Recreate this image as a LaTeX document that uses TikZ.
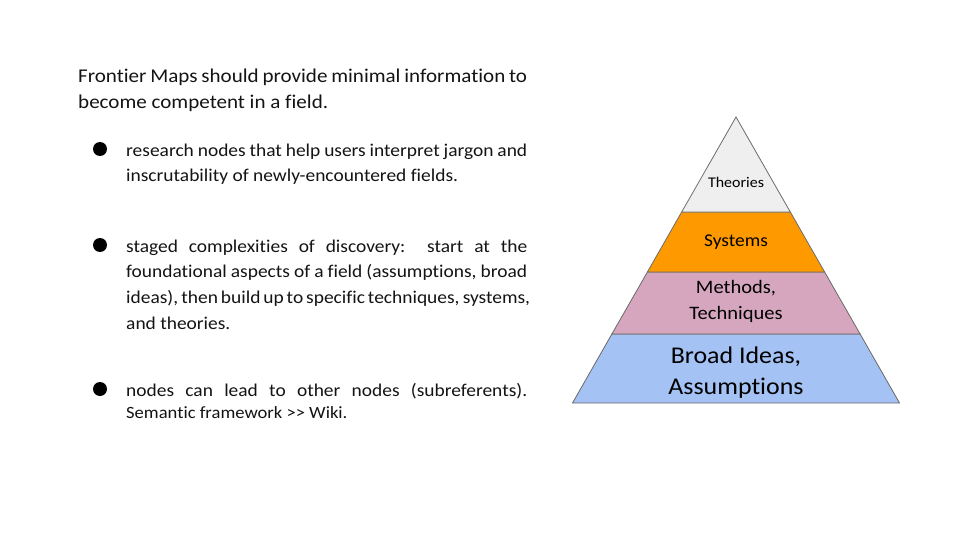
\documentclass[tikz,border=0pt]{standalone}
\usepackage{fontspec}
\setmainfont[FakeStretch=1.08, Ligatures=NoCommon]{Carlito}
\definecolor{ink}{HTML}{141414}
\definecolor{edge}{HTML}{6A6A6A}
\definecolor{theoryfill}{HTML}{EFEFEF}
\definecolor{systemfill}{HTML}{FF9900}
\definecolor{methodfill}{HTML}{D5A6BD}
\definecolor{ideafill}{HTML}{A4C2F4}
% a line stretched to a given width
\newcommand{\justline}[2]{\makebox[#1][s]{#2}}
\begin{document}
\begin{tikzpicture}[x=1pt,y=-1pt,
  introtext/.style={anchor=base west, inner sep=0pt, text=ink, font=\fontsize{19.5}{24}\selectfont},
  bullettext/.style={anchor=base west, inner sep=0pt, text=ink, font=\fontsize{18}{22}\selectfont},
  smalltext/.style={anchor=base west, inner sep=0pt, text=ink, font=\fontsize{17.2}{21}\selectfont},
  dot/.style={circle, fill=black, minimum size=14pt, inner sep=0pt},
  band/.style={draw=edge, line width=0.8pt, line join=miter},
  tierlabel/.style={align=center, text=black, inner sep=0pt}]
\useasboundingbox (0,0) rectangle (960,540);
\fill[white] (0,0) rectangle (960,540);

% intro paragraph
\node[introtext] (intro1) at (78,83) {\justline{449pt}{Frontier Maps should provide minimal information to}};
\node[introtext] (intro2) at (78,109) {become competent in a field.};

% bullet list
\node[dot] (dot1) at (100,149) {};
\node[bullettext] (b1l1) at (126,157) {\justline{401pt}{research nodes that help users interpret jargon and}};
\node[bullettext] (b1l2) at (126,182) {inscrutability of newly-encountered fields.};

\node[dot] (dot2) at (100,245) {};
\node[bullettext] (b2l1) at (126,252) {\justline{401pt}{staged complexities of discovery:\ \ start at the}};
\node[bullettext] (b2l2) at (126,277) {\justline{401pt}{foundational aspects of a field (assumptions, broad}};
\node[bullettext] (b2l3) at (126,303) {\justline{401pt}{ideas), then build up to specific techniques, systems,}};
\node[bullettext] (b2l4) at (126,329) {and theories.};

\node[dot] (dot3) at (100,389) {};
\node[bullettext] (b3l1) at (126,396) {\justline{401pt}{nodes can lead to other nodes (subreferents).}};
\node[smalltext] (b3l2) at (126,418) {Semantic framework >{}> Wiki.};

% pyramid tiers, bottom to top
\filldraw[band, fill=ideafill]   (572.5,403) -- (611.9,334) -- (860.1,334) -- (899.5,403) -- cycle;
\filldraw[band, fill=methodfill] (611.9,334) -- (647.4,272) -- (824.6,272) -- (860.1,334) -- cycle;
\filldraw[band, fill=systemfill] (647.4,272) -- (681.7,212) -- (790.3,212) -- (824.6,272) -- cycle;
\filldraw[band, fill=theoryfill] (681.7,212) -- (736,117) -- (790.3,212) -- cycle;

\node[tierlabel, font=\fontsize{14.8}{18}\selectfont] (theories) at (736,182) {Theories};
\node[tierlabel, font=\fontsize{18}{22}\selectfont] (systems) at (736,242.5) {Systems};
\node[tierlabel, font=\fontsize{19}{26}\selectfont] (methods) at (736,301.5) {Methods,\\Techniques};
\node[tierlabel, font=\fontsize{24}{31}\selectfont] (ideas) at (736,372.5) {Broad Ideas,\\Assumptions};
\end{tikzpicture}
\end{document}
